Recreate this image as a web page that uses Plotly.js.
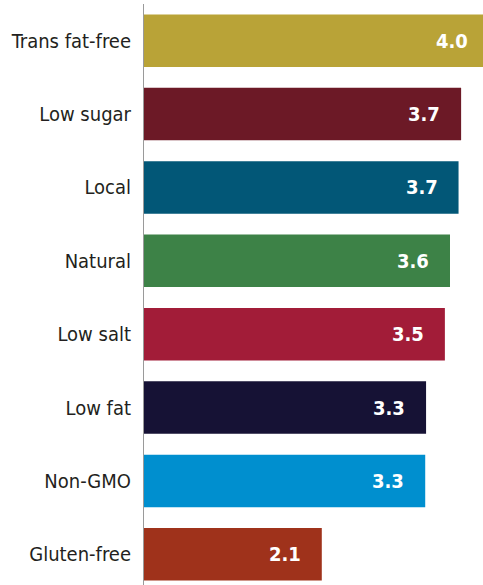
<!DOCTYPE html>
<html>
<head>
<meta charset="utf-8">
<script src="https://cdn.plot.ly/plotly-3.0.1.min.js"></script>
<style>
html, body { margin: 0; padding: 0; overflow: hidden; background: #ffffff; }
#chart { width: 503px; height: 591px; }
</style>
</head>
<body>
<div id="chart"></div>
<script>
var categories = ["Trans fat-free", "Low sugar", "Local", "Natural", "Low salt", "Low fat", "Non-GMO", "Gluten-free"];
var values = [4.04, 3.71, 3.68, 3.58, 3.52, 3.30, 3.29, 2.08];
var valueLabels = ["4.0", "3.7", "3.7", "3.6", "3.5", "3.3", "3.3", "2.1"];
var barColors = ["#B9A337", "#6C1926", "#025777", "#3D8247", "#A21C38", "#161235", "#008FCF", "#9F321B"];

var FONT = "'DejaVu Sans Condensed', 'Liberation Sans Narrow', 'Arial Narrow', 'Liberation Sans', sans-serif";

var trace = {
  type: "bar",
  orientation: "h",
  y: categories,
  x: values,
  marker: { color: barColors, line: { width: 0 } },
  hoverinfo: "none"
};

var annotations = categories.map(function (c, i) {
  return {
    x: values[i],
    y: c,
    xref: "x",
    yref: "y",
    text: valueLabels[i],
    showarrow: false,
    xanchor: "right",
    yanchor: "middle",
    xshift: -19,
    font: { family: FONT, size: 20, color: "#ffffff", weight: "bold" }
  };
});

var layout = {
  width: 503,
  height: 591,
  margin: { l: 144, r: 0, t: 4, b: 0, pad: 0 },
  paper_bgcolor: "#ffffff",
  plot_bgcolor: "#ffffff",
  showlegend: false,
  bargap: 0.284,
  xaxis: {
    range: [0, 4.2],
    visible: false,
    showgrid: false,
    zeroline: false,
    fixedrange: true
  },
  yaxis: {
    type: "category",
    categoryorder: "array",
    categoryarray: categories,
    autorange: false,
    range: [7.5, -0.5],
    showline: true,
    linecolor: "#9a9a9a",
    linewidth: 1,
    ticks: "",
    showgrid: false,
    zeroline: false,
    ticklabelstandoff: 8,
    tickfont: { family: FONT, size: 20, color: "#231f20" },
    fixedrange: true
  },
  annotations: annotations
};

Plotly.newPlot("chart", [trace], layout, { displayModeBar: false, staticPlot: true });
</script>
</body>
</html>
